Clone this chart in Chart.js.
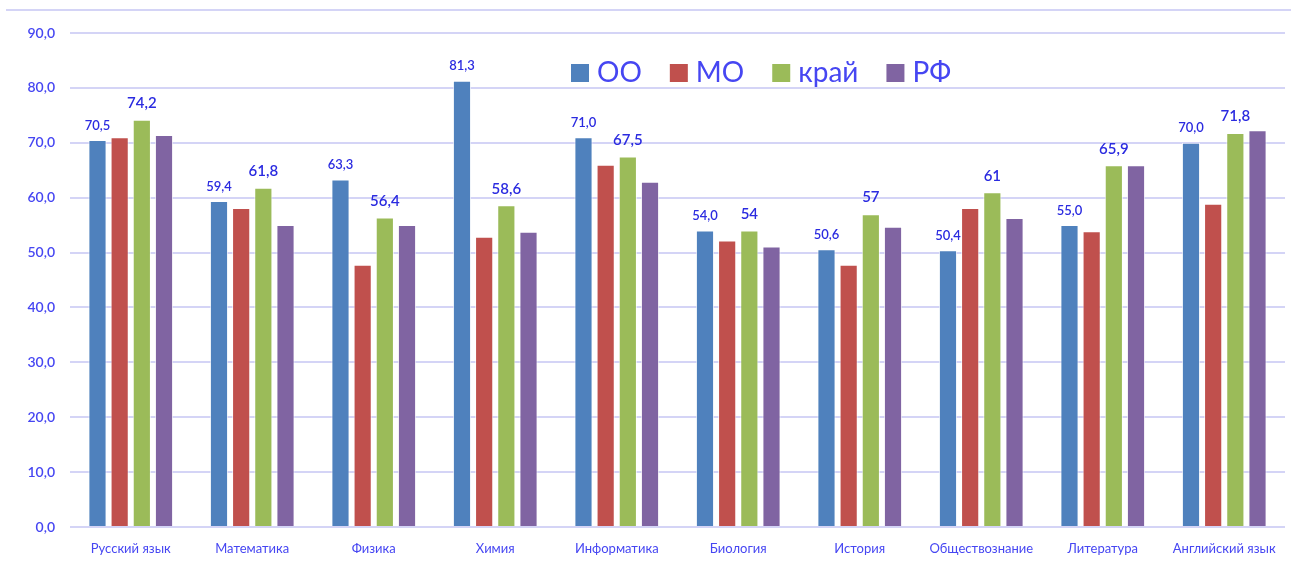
<!DOCTYPE html>
<html>
<head>
<meta charset="utf-8">
<script src="https://cdn.jsdelivr.net/npm/chart.js@4.4.1/dist/chart.umd.min.js"></script>
<style>
  html, body { margin: 0; padding: 0; background: #fff; }
  #wrap { width: 1291px; height: 562px; position: relative; }
</style>
</head>
<body>
<div id="wrap"><canvas id="chart"></canvas></div>
<script>
// subjects and series
var subjects = ['Русский язык', 'Математика', 'Физика', 'Химия', 'Информатика',
    'Биология', 'История', 'Обществознание', 'Литература', 'Английский язык'];
var seriesNames = ['ОО', 'МО', 'край', 'РФ'];
var valuesOO = [70.5, 59.4, 63.3, 81.3, 71.0, 54.0, 50.6, 50.4, 55.0, 70.0];
var valuesMO = [71.0, 58.1, 47.8, 52.9, 66.0, 52.2, 47.8, 58.1, 53.9, 58.9];
var valuesKrai = [74.2, 61.8, 56.4, 58.6, 67.5, 54, 57, 61, 65.9, 71.8];
var valuesRF = [71.4, 55.0, 55.0, 53.8, 62.9, 51.1, 54.7, 56.3, 65.9, 72.3];
var yTicks = [0, 10, 20, 30, 40, 50, 60, 70, 80, 90];

var colors = ['#4F81BD', '#C0504D', '#9BBB59', '#8064A2'];
var textBlue = '#4646f2';
var labelBlue = '#2b2be0';
var fontFamily = 'Lato, "Noto Sans", sans-serif';

function comma(v, fixed) {
    var s = fixed ? v.toFixed(1) : String(v);
    return s.replace('.', ',');
}

var allSeries = [valuesOO, valuesMO, valuesKrai, valuesRF];

// labels above the ОО (fixed 1 decimal) and край (as is) bars
var valueLabels = {
    id: 'valueLabels',
    afterDatasetsDraw: function (chart) {
        var ctx = chart.ctx;
        ctx.save();
        ctx.fillStyle = labelBlue;
        ctx.textAlign = 'center';
        ctx.textBaseline = 'bottom';
        [[0, true, 13, 8], [2, false, 15, 9]].forEach(function (cfg) {
            var meta = chart.getDatasetMeta(cfg[0]);
            ctx.font = '600 ' + cfg[2] + 'px ' + fontFamily;
            meta.data.forEach(function (bar, i) {
                var v = chart.data.datasets[cfg[0]].data[i];
                ctx.fillText(comma(v, cfg[1]), bar.x, bar.y - cfg[3]);
            });
        });
        ctx.restore();
    }
};

// legend drawn inside the plot area and the thin frame line at the top
var insideLegend = {
    id: 'insideLegend',
    beforeDraw: function (chart) {
        var ctx = chart.ctx;
        ctx.save();
        ctx.strokeStyle = '#d4d4f6';
        ctx.lineWidth = 2;
        ctx.beginPath();
        ctx.moveTo(6, 10);
        ctx.lineTo(chart.width, 10);
        ctx.stroke();
        ctx.restore();
    },
    afterDatasetsDraw: function (chart) {
        var ctx = chart.ctx;
        ctx.save();
        ctx.font = '28px ' + fontFamily;
        ctx.textBaseline = 'middle';
        var x = 571, y = 73;
        chart.data.datasets.forEach(function (ds) {
            ctx.fillStyle = ds.backgroundColor;
            ctx.fillRect(x, y - 9, 18, 18);
            ctx.fillStyle = textBlue;
            ctx.fillText(ds.label, x + 26, y);
            x += 26 + ctx.measureText(ds.label).width + 28;
        });
        ctx.restore();
    }
};

new Chart(document.getElementById('chart'), {
    type: 'bar',
    data: {
        labels: subjects,
        datasets: seriesNames.map(function (name, k) {
            return {
                label: name,
                data: allSeries[k],
                backgroundColor: colors[k],
                borderColor: 'rgba(255,255,255,0.7)',
                borderWidth: 1,
                barPercentage: 0.82,
                categoryPercentage: 0.73
            };
        })
    },
    options: {
        responsive: true,
        maintainAspectRatio: false,
        animation: false,
        layout: { padding: { top: 33, right: 6, left: 0, bottom: 0 } },
        plugins: {
            legend: { display: false },
            tooltip: { enabled: false }
        },
        scales: {
            x: {
                grid: { display: false, drawTicks: false },
                border: { display: false },
                afterFit: function (scale) { scale.height = 35; },
                ticks: {
                    color: textBlue,
                    font: { family: fontFamily, size: 13 },
                    maxRotation: 0,
                    autoSkip: false,
                    padding: 14
                }
            },
            y: {
                min: 0,
                max: 90,
                afterBuildTicks: function (axis) {
                    axis.ticks = yTicks.map(function (v) { return { value: v }; });
                },
                afterFit: function (scale) { scale.width = 70; },
                grid: { color: '#d4d4f6', lineWidth: 2, drawTicks: false },
                border: { display: false },
                ticks: {
                    color: textBlue,
                    font: { family: fontFamily, size: 14, weight: '600' },
                    padding: 15,
                    callback: function (v) { return comma(v, true); }
                }
            }
        }
    },
    plugins: [insideLegend, valueLabels]
});
</script>
</body>
</html>
